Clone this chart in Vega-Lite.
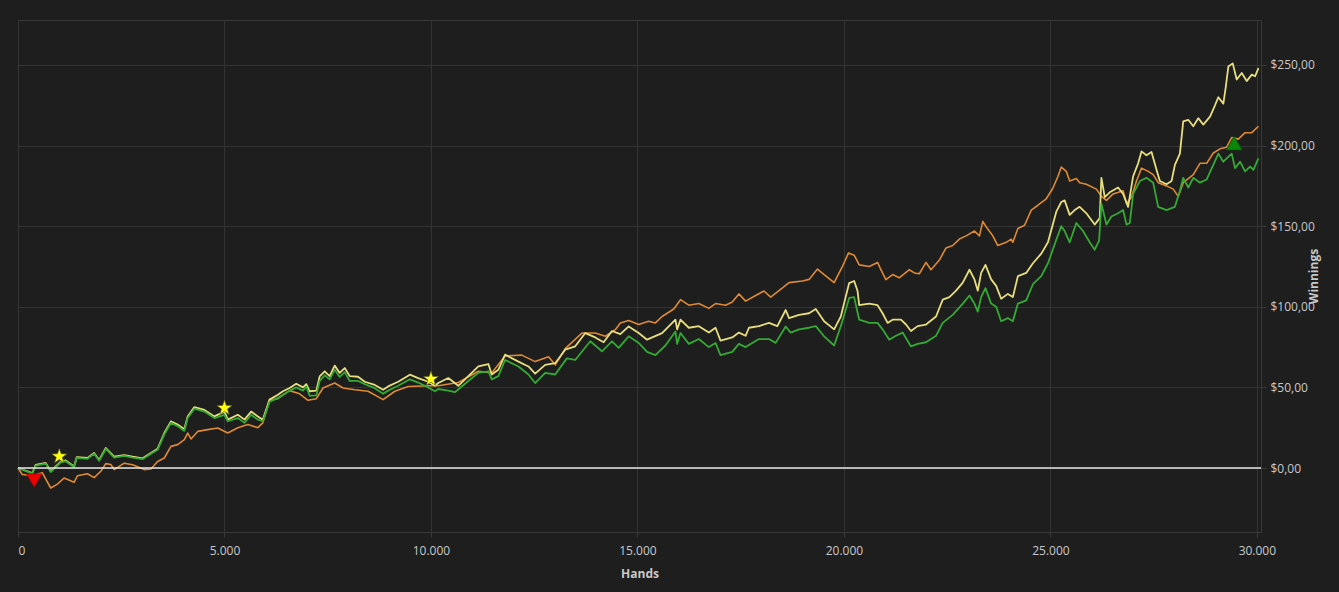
{
"$schema": "https://vega.github.io/schema/vega-lite/v6.json",
"width": 1339,
"height": 592,
"autosize": {"type": "fit", "contains": "padding"},
"padding": {"left": 17, "top": 20, "right": 19, "bottom": 13},
"background": "#1e1e1e",
"config": {
  "view": {"stroke": "#383838", "strokeWidth": 1},
  "axis": {"gridColor": "#333333", "gridWidth": 1, "domain": false, "tickColor": "#3a3a3a", "labelColor": "#c8c8c8", "titleColor": "#c8c8c8", "labelFont": "Open Sans", "titleFont": "Open Sans", "labelFontSize": 12, "titleFontSize": 12, "titleFontWeight": "bold"}
},
"datasets": {
"orange": [{"h":0,"v":0},{"h":104,"v":-4},{"h":347,"v":-4.7},{"h":590,"v":-3},{"h":792,"v":-12.4},{"h":954,"v":-10},{"h":1116,"v":-6.2},{"h":1358,"v":-8.9},{"h":1439,"v":-4.8},{"h":1682,"v":-3.6},{"h":1844,"v":-6},{"h":2006,"v":-2},{"h":2127,"v":2.7},{"h":2248,"v":2.2},{"h":2329,"v":-1},{"h":2572,"v":3},{"h":2774,"v":2},{"h":3057,"v":-1},{"h":3219,"v":-0.6},{"h":3381,"v":4},{"h":3543,"v":6.2},{"h":3704,"v":13.4},{"h":3866,"v":14.5},{"h":4028,"v":17.6},{"h":4109,"v":21.7},{"h":4190,"v":18},{"h":4352,"v":22.7},{"h":4594,"v":23.8},{"h":4837,"v":24.8},{"h":5080,"v":21.7},{"h":5323,"v":25},{"h":5565,"v":27},{"h":5808,"v":25},{"h":5929,"v":28},{"h":6091,"v":42},{"h":6294,"v":43},{"h":6577,"v":48},{"h":6819,"v":46},{"h":7022,"v":42},{"h":7224,"v":43},{"h":7386,"v":49.6},{"h":7669,"v":52.7},{"h":7871,"v":49.6},{"h":8154,"v":48.5},{"h":8478,"v":47.6},{"h":8842,"v":42.4},{"h":9125,"v":47.6},{"h":9449,"v":50.6},{"h":9934,"v":51},{"h":10177,"v":51},{"h":10662,"v":53},{"h":11148,"v":60},{"h":11471,"v":59},{"h":11795,"v":69.5},{"h":12200,"v":70},{"h":12523,"v":66},{"h":12847,"v":69},{"h":13009,"v":64},{"h":13251,"v":74},{"h":13656,"v":83.7},{"h":13979,"v":83.7},{"h":14222,"v":81.7},{"h":14465,"v":85.8},{"h":14586,"v":90},{"h":14788,"v":91.5},{"h":15031,"v":89},{"h":15273,"v":91},{"h":15435,"v":90},{"h":15597,"v":94},{"h":15880,"v":98.6},{"h":16042,"v":104.4},{"h":16244,"v":101},{"h":16487,"v":102},{"h":16729,"v":99},{"h":16891,"v":102},{"h":17134,"v":101},{"h":17296,"v":103},{"h":17457,"v":108},{"h":17619,"v":103.5},{"h":17862,"v":107},{"h":18064,"v":109.8},{"h":18226,"v":106},{"h":18428,"v":110},{"h":18671,"v":115},{"h":18995,"v":116},{"h":19156,"v":117},{"h":19359,"v":123.4},{"h":19520,"v":120},{"h":19763,"v":115},{"h":19965,"v":125},{"h":20111,"v":133.4},{"h":20248,"v":132},{"h":20370,"v":126},{"h":20613,"v":125},{"h":20815,"v":127.5},{"h":20896,"v":123},{"h":21017,"v":116.8},{"h":21179,"v":120},{"h":21341,"v":118},{"h":21584,"v":123},{"h":21705,"v":121},{"h":21826,"v":120.5},{"h":21988,"v":127.5},{"h":22109,"v":123},{"h":22312,"v":129},{"h":22473,"v":136.5},{"h":22635,"v":138},{"h":22797,"v":142},{"h":22959,"v":144},{"h":23161,"v":147},{"h":23282,"v":144},{"h":23363,"v":153},{"h":23444,"v":149.6},{"h":23606,"v":144},{"h":23727,"v":138},{"h":23930,"v":140},{"h":24051,"v":142},{"h":24091,"v":140},{"h":24213,"v":148.6},{"h":24375,"v":150.6},{"h":24537,"v":160},{"h":24698,"v":163},{"h":24900,"v":167},{"h":25062,"v":173.7},{"h":25184,"v":181},{"h":25264,"v":186.7},{"h":25386,"v":184},{"h":25467,"v":178},{"h":25629,"v":179.6},{"h":25709,"v":177},{"h":25871,"v":176},{"h":26114,"v":173},{"h":26235,"v":168.5},{"h":26357,"v":166},{"h":26518,"v":170},{"h":26761,"v":172},{"h":26842,"v":164},{"h":26963,"v":168},{"h":27085,"v":178},{"h":27206,"v":186},{"h":27368,"v":184},{"h":27489,"v":182},{"h":27611,"v":177},{"h":27813,"v":175},{"h":27975,"v":173},{"h":28096,"v":168.5},{"h":28217,"v":177},{"h":28460,"v":182},{"h":28622,"v":189},{"h":28784,"v":189},{"h":28945,"v":195.4},{"h":29107,"v":198},{"h":29269,"v":199},{"h":29390,"v":205},{"h":29552,"v":204},{"h":29714,"v":208},{"h":29876,"v":208},{"h":30038,"v":212}],
"yellow": [{"h":0,"v":0},{"h":347,"v":-3.1},{"h":428,"v":2},{"h":671,"v":3.1},{"h":792,"v":-2},{"h":954,"v":2},{"h":1035,"v":4},{"h":1156,"v":4.7},{"h":1358,"v":1},{"h":1423,"v":6.8},{"h":1682,"v":6.2},{"h":1844,"v":9.3},{"h":1965,"v":5},{"h":2127,"v":12.4},{"h":2329,"v":7},{"h":2572,"v":8},{"h":2774,"v":7},{"h":3017,"v":6},{"h":3219,"v":9.3},{"h":3381,"v":12},{"h":3543,"v":21.7},{"h":3704,"v":28.9},{"h":3866,"v":27},{"h":4028,"v":24},{"h":4109,"v":32},{"h":4271,"v":37.8},{"h":4513,"v":36},{"h":4756,"v":32},{"h":4999,"v":35},{"h":5080,"v":30},{"h":5323,"v":33},{"h":5485,"v":30},{"h":5646,"v":35},{"h":5808,"v":32},{"h":5929,"v":30},{"h":6091,"v":42.4},{"h":6294,"v":45.5},{"h":6415,"v":47.6},{"h":6577,"v":49.6},{"h":6738,"v":52.3},{"h":6900,"v":50},{"h":6981,"v":52},{"h":7062,"v":47.6},{"h":7224,"v":48},{"h":7305,"v":56.8},{"h":7426,"v":60},{"h":7547,"v":57},{"h":7669,"v":63.5},{"h":7790,"v":59},{"h":7912,"v":62},{"h":8033,"v":57},{"h":8235,"v":56.6},{"h":8397,"v":53.5},{"h":8640,"v":51.5},{"h":8842,"v":48.5},{"h":8963,"v":50.6},{"h":9206,"v":53.5},{"h":9489,"v":57.9},{"h":9691,"v":55.8},{"h":9934,"v":53.5},{"h":10096,"v":51},{"h":10177,"v":52.7},{"h":10420,"v":55.8},{"h":10662,"v":51},{"h":10905,"v":57},{"h":11148,"v":63},{"h":11391,"v":64.5},{"h":11471,"v":58},{"h":11633,"v":61},{"h":11795,"v":70.3},{"h":12119,"v":66},{"h":12361,"v":63},{"h":12523,"v":58.5},{"h":12766,"v":64},{"h":13009,"v":65},{"h":13251,"v":73.4},{"h":13494,"v":75.5},{"h":13737,"v":83.7},{"h":13979,"v":81},{"h":14181,"v":78},{"h":14384,"v":85},{"h":14586,"v":83},{"h":14788,"v":87.8},{"h":15031,"v":83.7},{"h":15233,"v":79.6},{"h":15597,"v":83.7},{"h":15920,"v":92},{"h":15961,"v":86},{"h":16042,"v":92},{"h":16244,"v":87},{"h":16487,"v":88},{"h":16729,"v":84},{"h":16891,"v":87},{"h":17012,"v":79},{"h":17296,"v":81},{"h":17457,"v":84},{"h":17619,"v":82},{"h":17700,"v":87},{"h":17943,"v":88},{"h":18185,"v":90},{"h":18388,"v":88},{"h":18590,"v":98},{"h":18671,"v":93},{"h":18914,"v":95},{"h":19156,"v":96},{"h":19318,"v":98.6},{"h":19520,"v":91},{"h":19763,"v":86},{"h":19925,"v":94},{"h":20127,"v":114.7},{"h":20248,"v":116},{"h":20329,"v":110},{"h":20370,"v":101},{"h":20613,"v":102},{"h":20815,"v":101},{"h":20936,"v":96},{"h":21058,"v":90},{"h":21179,"v":92},{"h":21381,"v":92},{"h":21503,"v":89},{"h":21624,"v":85},{"h":21786,"v":88},{"h":21988,"v":89},{"h":22231,"v":94},{"h":22393,"v":104.4},{"h":22554,"v":106},{"h":22716,"v":110},{"h":22878,"v":115},{"h":23040,"v":123},{"h":23161,"v":117},{"h":23242,"v":110},{"h":23323,"v":121},{"h":23428,"v":126},{"h":23566,"v":117},{"h":23687,"v":113},{"h":23808,"v":105},{"h":23970,"v":108},{"h":24091,"v":106},{"h":24213,"v":119},{"h":24415,"v":121},{"h":24577,"v":127},{"h":24779,"v":133},{"h":24941,"v":140},{"h":25143,"v":159},{"h":25264,"v":165},{"h":25345,"v":166},{"h":25467,"v":157},{"h":25588,"v":160},{"h":25709,"v":162},{"h":25871,"v":158},{"h":26073,"v":151},{"h":26195,"v":155},{"h":26235,"v":180},{"h":26316,"v":168},{"h":26438,"v":171},{"h":26640,"v":174},{"h":26761,"v":170},{"h":26882,"v":162},{"h":27004,"v":181},{"h":27125,"v":189},{"h":27206,"v":196.4},{"h":27327,"v":194},{"h":27449,"v":196},{"h":27570,"v":185},{"h":27651,"v":178},{"h":27813,"v":176},{"h":27934,"v":178},{"h":28015,"v":188},{"h":28136,"v":195},{"h":28217,"v":215},{"h":28339,"v":216},{"h":28460,"v":212},{"h":28581,"v":217},{"h":28703,"v":213},{"h":28865,"v":218},{"h":28986,"v":225},{"h":29067,"v":230},{"h":29188,"v":226},{"h":29245,"v":236},{"h":29309,"v":249},{"h":29415,"v":251},{"h":29512,"v":241},{"h":29633,"v":245},{"h":29754,"v":240},{"h":29876,"v":244},{"h":29957,"v":243},{"h":30038,"v":248}],
"green": [{"h":0,"v":0},{"h":347,"v":-3.5},{"h":428,"v":1.5},{"h":671,"v":2.7},{"h":792,"v":-2.5},{"h":954,"v":1.5},{"h":1035,"v":3.5},{"h":1156,"v":4.2},{"h":1358,"v":0.5},{"h":1423,"v":6.3},{"h":1682,"v":5.7},{"h":1844,"v":8.8},{"h":1965,"v":4.5},{"h":2127,"v":11.8},{"h":2329,"v":6.5},{"h":2572,"v":7.5},{"h":2774,"v":6.5},{"h":3017,"v":5.5},{"h":3219,"v":8.8},{"h":3381,"v":11.3},{"h":3543,"v":20.8},{"h":3704,"v":28},{"h":3866,"v":26},{"h":4028,"v":23},{"h":4109,"v":31},{"h":4271,"v":36.8},{"h":4513,"v":35},{"h":4756,"v":31},{"h":4999,"v":33},{"h":5080,"v":29},{"h":5323,"v":31},{"h":5485,"v":28},{"h":5646,"v":33},{"h":5808,"v":30},{"h":5929,"v":29},{"h":6091,"v":41},{"h":6294,"v":43.5},{"h":6415,"v":45.5},{"h":6577,"v":48},{"h":6738,"v":50},{"h":6900,"v":48},{"h":6981,"v":50.5},{"h":7062,"v":44.8},{"h":7224,"v":45},{"h":7305,"v":54},{"h":7426,"v":57.5},{"h":7547,"v":55},{"h":7669,"v":61},{"h":7790,"v":56.5},{"h":7912,"v":59.5},{"h":8033,"v":54},{"h":8235,"v":54},{"h":8397,"v":52},{"h":8640,"v":49.5},{"h":8842,"v":46},{"h":8963,"v":48},{"h":9206,"v":51},{"h":9489,"v":55},{"h":9691,"v":53},{"h":9934,"v":50},{"h":10096,"v":47.6},{"h":10177,"v":49},{"h":10420,"v":48},{"h":10580,"v":47},{"h":10905,"v":54},{"h":11148,"v":59},{"h":11391,"v":60},{"h":11471,"v":55},{"h":11633,"v":57},{"h":11795,"v":67},{"h":12119,"v":63},{"h":12361,"v":58},{"h":12523,"v":52.7},{"h":12766,"v":59},{"h":13009,"v":58},{"h":13291,"v":68},{"h":13494,"v":67},{"h":13858,"v":78.6},{"h":14141,"v":72.4},{"h":14384,"v":78.6},{"h":14546,"v":74.5},{"h":14788,"v":81.7},{"h":15031,"v":77.6},{"h":15233,"v":72},{"h":15435,"v":70},{"h":15678,"v":76},{"h":15920,"v":84.7},{"h":15961,"v":77},{"h":16042,"v":83.7},{"h":16244,"v":77},{"h":16487,"v":80},{"h":16729,"v":75},{"h":16891,"v":77.6},{"h":17012,"v":70},{"h":17296,"v":72},{"h":17457,"v":77},{"h":17619,"v":75},{"h":17943,"v":80},{"h":18185,"v":80},{"h":18347,"v":77.6},{"h":18590,"v":87.8},{"h":18711,"v":84},{"h":18914,"v":86},{"h":19156,"v":87},{"h":19318,"v":88},{"h":19520,"v":81.7},{"h":19763,"v":76},{"h":19925,"v":88},{"h":20127,"v":105.5},{"h":20248,"v":106},{"h":20370,"v":92},{"h":20613,"v":90},{"h":20815,"v":90},{"h":20936,"v":86},{"h":21098,"v":79.6},{"h":21260,"v":82},{"h":21422,"v":84},{"h":21624,"v":75.4},{"h":21786,"v":77},{"h":21988,"v":78},{"h":22231,"v":82},{"h":22393,"v":90},{"h":22635,"v":95},{"h":22878,"v":102},{"h":23040,"v":107},{"h":23161,"v":102},{"h":23242,"v":97},{"h":23323,"v":106},{"h":23428,"v":111.6},{"h":23566,"v":102},{"h":23687,"v":100},{"h":23808,"v":91},{"h":23970,"v":93},{"h":24091,"v":91},{"h":24213,"v":102},{"h":24415,"v":104},{"h":24577,"v":114},{"h":24779,"v":119},{"h":24941,"v":127},{"h":25143,"v":141.6},{"h":25264,"v":150},{"h":25345,"v":147},{"h":25467,"v":140},{"h":25629,"v":152},{"h":25790,"v":147},{"h":25952,"v":140},{"h":26073,"v":135.4},{"h":26179,"v":141},{"h":26235,"v":164},{"h":26357,"v":151},{"h":26478,"v":156},{"h":26640,"v":158},{"h":26761,"v":160},{"h":26842,"v":151},{"h":26923,"v":152},{"h":27004,"v":170},{"h":27166,"v":178},{"h":27327,"v":180},{"h":27489,"v":177},{"h":27610,"v":162},{"h":27813,"v":160},{"h":28015,"v":162},{"h":28136,"v":172},{"h":28217,"v":180},{"h":28339,"v":174},{"h":28460,"v":180},{"h":28622,"v":177},{"h":28784,"v":179},{"h":28945,"v":188},{"h":29067,"v":195},{"h":29188,"v":190},{"h":29390,"v":195},{"h":29471,"v":186},{"h":29593,"v":190},{"h":29714,"v":184},{"h":29836,"v":187},{"h":29916,"v":185},{"h":30038,"v":192}],
"stars": [{"h":1000,"v":7.2},{"h":5000,"v":37.2},{"h":10000,"v":55.2}],
"down": [{"h":390,"v":-7.8}],
"up": [{"h":29450,"v":201.5}]
},
"encoding": {
  "x": {"field": "h", "type": "quantitative", "scale": {"domain": [0, 30100], "nice": false},
    "axis": {"title": "Hands", "orient": "bottom", "values": [0, 5000, 10000, 15000, 20000, 25000, 30000], "labelExpr": "replace(format(datum.value, ','), ',', '.')", "tickSize": 5, "labelPadding": 8, "titlePadding": 12, "grid": true}},
  "y": {"field": "v", "type": "quantitative", "scale": {"domain": [-39.7, 277.9], "nice": false, "zero": false},
    "axis": {"title": "Winnings", "orient": "right", "values": [0, 50, 100, 150, 200, 250], "labelExpr": "'$' + replace(format(datum.value, '.2f'), '.', ',')", "tickSize": 5, "labelPadding": 4, "titleAngle": 270, "titlePadding": 6, "grid": true}}
},
"layer": [
  {
    "data": {"name": "orange"},
    "mark": {"type": "line", "color": "#de8a34", "strokeWidth": 1.6, "strokeJoin": "round"}
  },
  {
    "data": {"name": "yellow"},
    "mark": {"type": "line", "color": "#e6de7c", "strokeWidth": 1.8, "strokeJoin": "round"}
  },
  {
    "data": {"name": "green"},
    "mark": {"type": "line", "color": "#34a934", "strokeWidth": 1.8, "strokeJoin": "round"}
  },
  {
    "data": {"values": [{"z": 0}]},
    "mark": {"type": "rule", "color": "#e8e8e8", "strokeWidth": 1.5},
    "encoding": {"x": null, "y": {"field": "z", "type": "quantitative"}}
  },
  {
    "data": {"name": "stars"},
    "mark": {"type": "point", "shape": "M0,-1L0.235,-0.324L0.951,-0.309L0.38,0.124L0.588,0.809L0,0.4L-0.588,0.809L-0.38,0.124L-0.951,-0.309L-0.235,-0.324Z", "filled": true, "fill": "#ffff10", "stroke": "#555533", "strokeWidth": 0.6, "size": 250, "opacity": 1}
  },
  {
    "data": {"name": "down"},
    "mark": {"type": "point", "shape": "triangle-down", "filled": true, "fill": "#ee0000", "stroke": "#880000", "strokeWidth": 0.6, "size": 240, "opacity": 1}
  },
  {
    "data": {"name": "up"},
    "mark": {"type": "point", "shape": "triangle-up", "filled": true, "fill": "#0a870a", "stroke": "#055505", "strokeWidth": 0.6, "size": 250, "opacity": 1}
  }
]
}
